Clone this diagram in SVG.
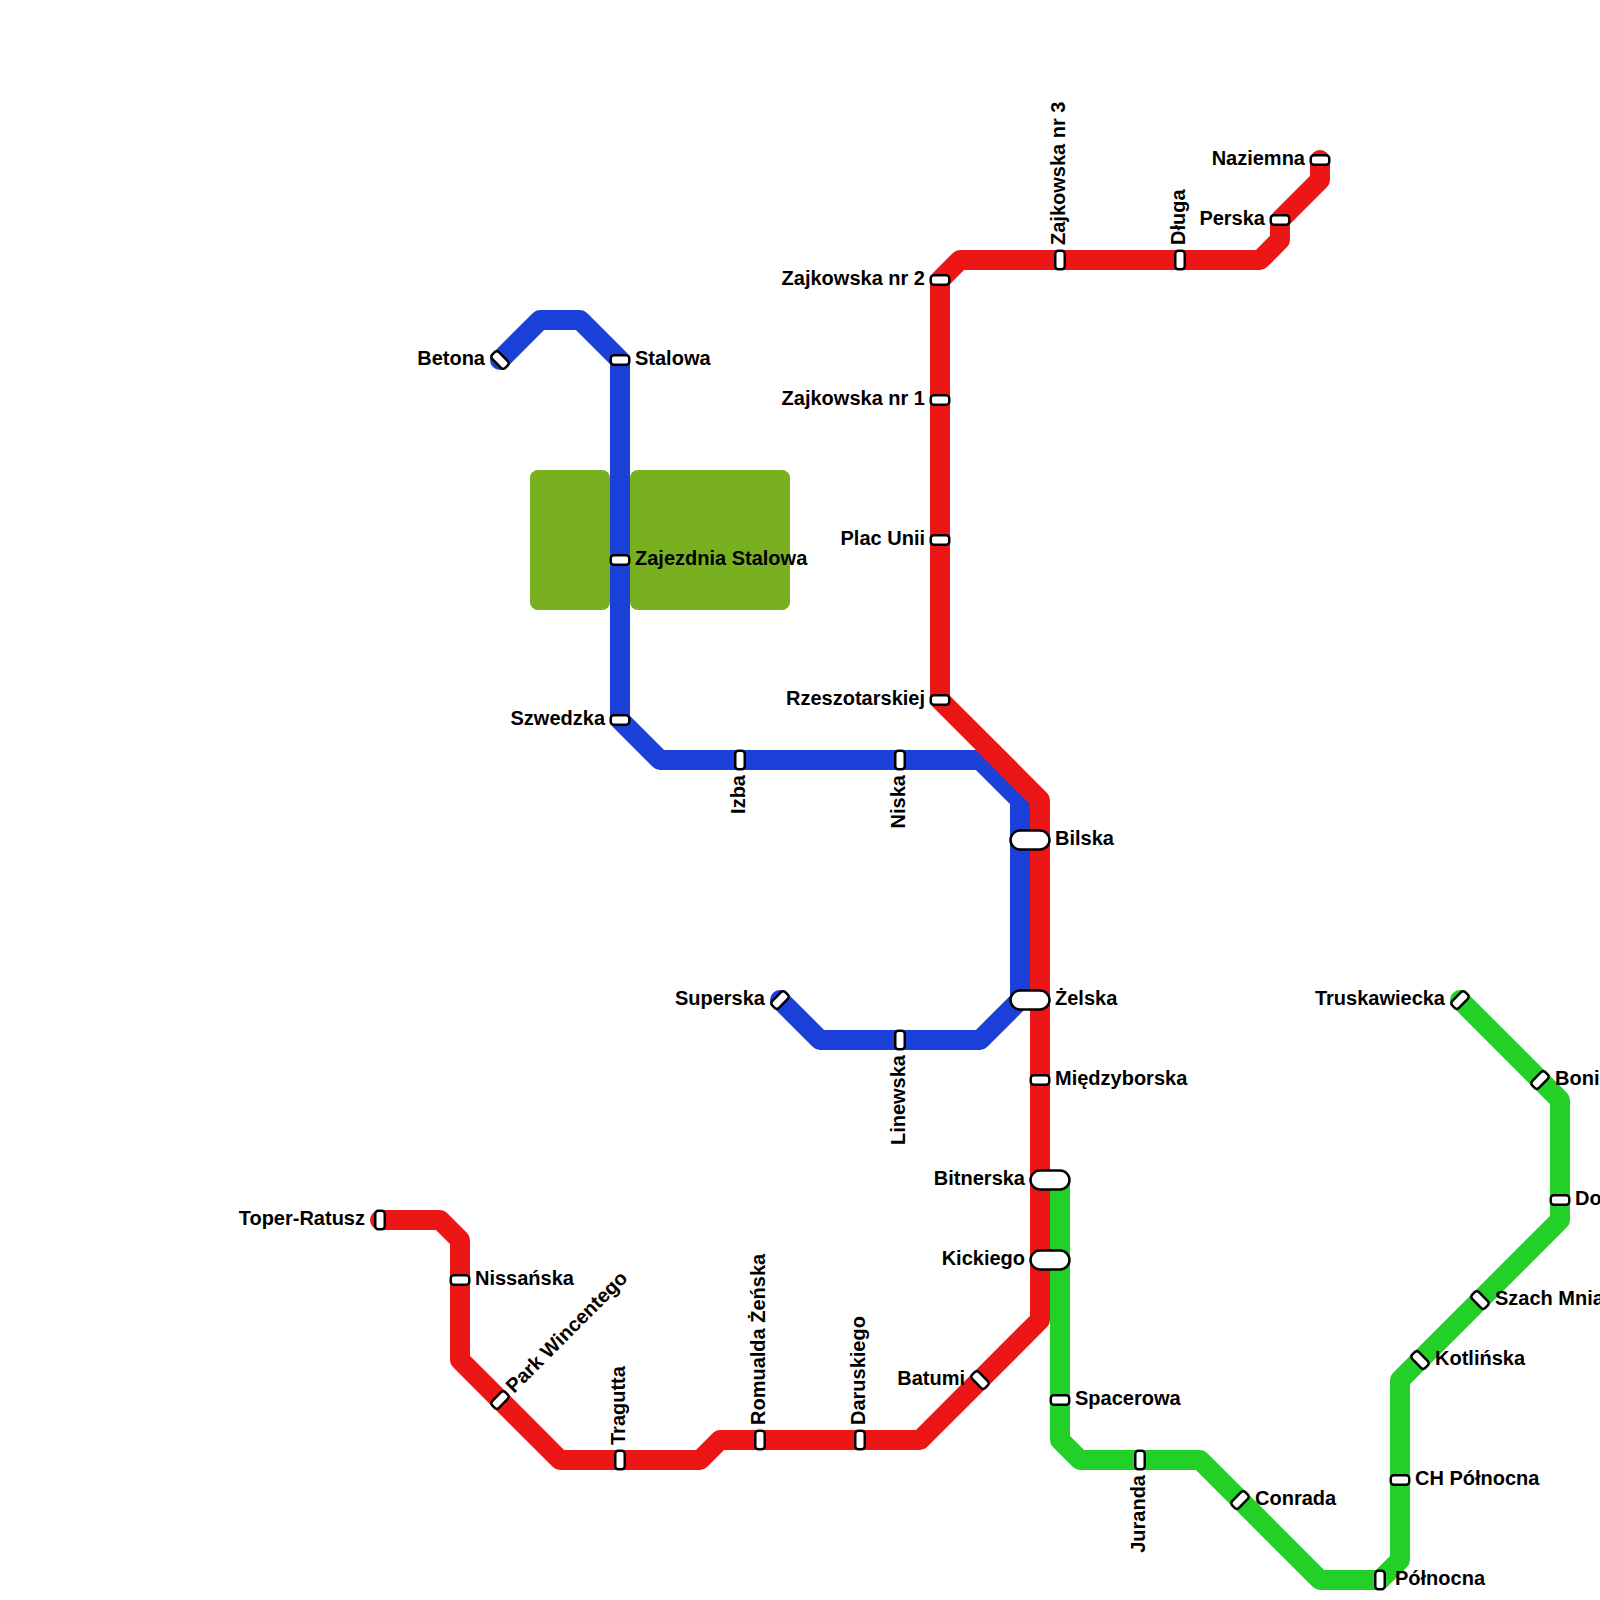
<svg xmlns="http://www.w3.org/2000/svg" width="1600" height="1600" viewBox="0 0 1600 1600">
<style>
.line{fill:none;stroke-width:20;stroke-linecap:round;stroke-linejoin:round}
.st{fill:#fff;stroke:#000;stroke-width:2.5}
text{font-family:"Liberation Sans",Arial,sans-serif;font-weight:700;font-size:20px;fill:#000}
.e{text-anchor:end}
</style>
<defs>
<rect id="s" class="st" x="-9.25" y="-4.75" width="18.5" height="9.5" rx="3"/>
<rect id="p" class="st" x="-19.5" y="-9.5" width="39" height="19" rx="9.5"/>
</defs>
<rect width="1600" height="1600" fill="#fff"/>
<g id="parks" fill="#78b020">
<rect x="530" y="470" width="80" height="140" rx="8"/>
<rect x="630" y="470" width="160" height="140" rx="8"/>
</g>
<g id="connectors">
<path class="line" stroke="#1b40d8" d="M500 360L540 320H580L620 360V720L660 760H980L1020 800V1000L980 1040H820L780 1000"/>
<path class="line" stroke="#ed1616" d="M1320 160V180L1280 220V240L1260 260H960L940 280V700L1040 800V1320L920 1440H720L700 1460H560L460 1360V1240L440 1220H380"/>
<path class="line" stroke="#22d028" d="M1060 1180V1440L1080 1460H1200L1320 1580H1380L1400 1560V1380L1560 1220V1100L1460 1000"/>
</g>
<g id="n-naziemna"><use href="#s" x="1320" y="160"/><text class="e" x="1305" y="165">Naziemna</text></g>
<g id="n-perska"><use href="#s" x="1280" y="220"/><text class="e" x="1265" y="225">Perska</text></g>
<g id="n-dluga"><use href="#s" transform="translate(1180 260) rotate(90)"/><text transform="translate(1185 245) rotate(-90)">Długa</text></g>
<g id="n-zajk3"><use href="#s" transform="translate(1060 260) rotate(90)"/><text transform="translate(1065 245) rotate(-90)">Zajkowska nr 3</text></g>
<g id="n-zajk2"><use href="#s" x="940" y="280"/><text class="e" x="925" y="285">Zajkowska nr 2</text></g>
<g id="n-zajk1"><use href="#s" x="940" y="400"/><text class="e" x="925" y="405">Zajkowska nr 1</text></g>
<g id="n-plac"><use href="#s" x="940" y="540"/><text class="e" x="925" y="545">Plac Unii</text></g>
<g id="n-rzesz"><use href="#s" x="940" y="700"/><text class="e" x="925" y="705">Rzeszotarskiej</text></g>
<g id="n-bilska"><use href="#p" x="1030" y="840"/><text x="1055" y="845">Bilska</text></g>
<g id="n-zelska"><use href="#p" x="1030" y="1000"/><text x="1055" y="1005">Żelska</text></g>
<g id="n-miedzy"><use href="#s" x="1040" y="1080"/><text x="1055" y="1085">Międzyborska</text></g>
<g id="n-bitnerska"><use href="#p" x="1050" y="1180"/><text class="e" x="1025" y="1185">Bitnerska</text></g>
<g id="n-kickiego"><use href="#p" x="1050" y="1260"/><text class="e" x="1025" y="1265">Kickiego</text></g>
<g id="n-batumi"><use href="#s" transform="translate(980 1380) rotate(45)"/><text class="e" x="965" y="1385">Batumi</text></g>
<g id="n-daruskiego"><use href="#s" transform="translate(860 1440) rotate(90)"/><text transform="translate(865 1425) rotate(-90)">Daruskiego</text></g>
<g id="n-romualda"><use href="#s" transform="translate(760 1440) rotate(90)"/><text transform="translate(765 1425) rotate(-90)">Romualda Żeńska</text></g>
<g id="n-tragutta"><use href="#s" transform="translate(620 1460) rotate(90)"/><text transform="translate(625 1445) rotate(-90)">Tragutta</text></g>
<g id="n-park"><use href="#s" transform="translate(500 1400) rotate(-45)"/><text transform="translate(514 1394) rotate(-45)">Park Wincentego</text></g>
<g id="n-nissanska"><use href="#s" x="460" y="1280"/><text x="475" y="1285">Nissańska</text></g>
<g id="n-toper"><use href="#s" transform="translate(380 1220) rotate(90)"/><text class="e" x="365" y="1225">Toper-Ratusz</text></g>
<g id="n-betona"><use href="#s" transform="translate(500 360) rotate(45)"/><text class="e" x="485" y="365">Betona</text></g>
<g id="n-stalowa"><use href="#s" x="620" y="360"/><text x="635" y="365">Stalowa</text></g>
<g id="n-zajezdnia"><use href="#s" x="620" y="560"/><text x="635" y="565">Zajezdnia Stalowa</text></g>
<g id="n-szwedzka"><use href="#s" x="620" y="720"/><text class="e" x="605" y="725">Szwedzka</text></g>
<g id="n-izba"><use href="#s" transform="translate(740 760) rotate(90)"/><text class="e" transform="translate(745 775) rotate(-90)">Izba</text></g>
<g id="n-niska"><use href="#s" transform="translate(900 760) rotate(90)"/><text class="e" transform="translate(905 775) rotate(-90)">Niska</text></g>
<g id="n-linewska"><use href="#s" transform="translate(900 1040) rotate(90)"/><text class="e" transform="translate(905 1055) rotate(-90)">Linewska</text></g>
<g id="n-superska"><use href="#s" transform="translate(780 1000) rotate(-45)"/><text class="e" x="765" y="1005">Superska</text></g>
<g id="n-spacerowa"><use href="#s" x="1060" y="1400"/><text x="1075" y="1405">Spacerowa</text></g>
<g id="n-juranda"><use href="#s" transform="translate(1140 1460) rotate(90)"/><text class="e" transform="translate(1145 1475) rotate(-90)">Juranda</text></g>
<g id="n-conrada"><use href="#s" transform="translate(1240 1500) rotate(-45)"/><text x="1255" y="1505">Conrada</text></g>
<g id="n-polnocna"><use href="#s" transform="translate(1380 1580) rotate(90)"/><text x="1395" y="1585">Północna</text></g>
<g id="n-chpolnocna"><use href="#s" x="1400" y="1480"/><text x="1415" y="1485">CH Północna</text></g>
<g id="n-kotlinska"><use href="#s" transform="translate(1420 1360) rotate(45)"/><text x="1435" y="1365">Kotlińska</text></g>
<g id="n-szach"><use href="#s" transform="translate(1480 1300) rotate(45)"/><text x="1495" y="1305">Szach Mnia</text></g>
<g id="n-do"><use href="#s" x="1560" y="1200"/><text x="1575" y="1205">Do</text></g>
<g id="n-boni"><use href="#s" transform="translate(1540 1080) rotate(-45)"/><text x="1555" y="1085">Boni</text></g>
<g id="n-truskawiecka"><use href="#s" transform="translate(1460 1000) rotate(-45)"/><text class="e" x="1445" y="1005">Truskawiecka</text></g>
</svg>
